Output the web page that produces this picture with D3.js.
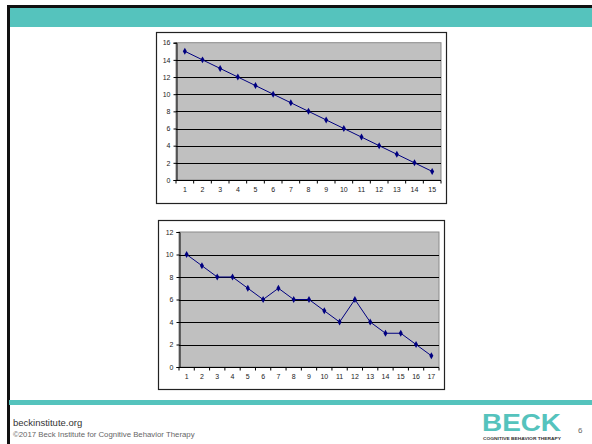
<!DOCTYPE html>
<html>
<head>
<meta charset="utf-8">
<script src="https://d3js.org/d3.v7.min.js"></script>
<style>
  html, body { margin: 0; padding: 0; background: #fff; }
  svg { display: block; }
</style>
</head>
<body>
<script>
// Two line charts of a declining score over successive sessions
const sessionsA = [1,2,3,4,5,6,7,8,9,10,11,12,13,14,15];
const scoresA   = [15,14,13,12,11,10,9,8,7,6,5,4,3,2,1];
const yTicksA   = [0,2,4,6,8,10,12,14,16];

const sessionsB = [1,2,3,4,5,6,7,8,9,10,11,12,13,14,15,16,17];
const scoresB   = [10,9,8,8,7,6,7,6,6,5,4,6,4,3,3,2,1];
const yTicksB   = [0,2,4,6,8,10,12];

const W = 592, H = 444;
const teal = "#55c3bd";
const svg = d3.select("body").append("svg").attr("width", W).attr("height", H);

svg.append("rect").attr("width", W).attr("height", H).attr("fill", "#fff");

// slide frame and header band
svg.append("rect").attr("x", 7).attr("y", 8).attr("width", W).attr("height", 19).attr("fill", teal);
svg.append("path").attr("d", `M8.5,${H} V6.5 H${W}`).attr("fill", "none").attr("stroke", "#111").attr("stroke-width", 3);

// footer rule
svg.append("rect").attr("x", 9).attr("y", 400).attr("width", W).attr("height", 5).attr("fill", teal);

function drawChart(cfg) {
  const { frame, plot, cats, vals, ticks, ymax } = cfg;
  const g = svg.append("g");
  g.append("rect")
    .attr("x", frame.x + 0.5).attr("y", frame.y + 0.5)
    .attr("width", frame.w).attr("height", frame.h)
    .attr("fill", "#fff").attr("stroke", "#222").attr("stroke-width", 1.2);

  const x = d3.scaleBand().domain(cats).range([plot.x0, plot.x1]);
  const y = d3.scaleLinear().domain([0, ymax]).range([plot.y1, plot.y0]);

  g.append("rect")
    .attr("x", plot.x0).attr("y", y(ymax))
    .attr("width", plot.x1 - plot.x0).attr("height", y(0) - y(ymax))
    .attr("fill", "#c0c0c0").attr("stroke", "#8a8a8a").attr("stroke-width", 1);

  // horizontal gridlines
  g.selectAll("line.grid").data(ticks.filter(t => t > 0 && t < ymax)).enter().append("line")
    .attr("x1", plot.x0).attr("x2", plot.x1)
    .attr("y1", d => Math.round(y(d)) + 0.5).attr("y2", d => Math.round(y(d)) + 0.5)
    .attr("stroke", "#000").attr("stroke-width", 1);

  // y axis
  const ya = g.append("g").attr("transform", `translate(${plot.x0 + 0.5},0)`)
    .call(d3.axisLeft(y).tickValues(ticks).tickSize(3).tickPadding(3));
  ya.select(".domain").attr("stroke", "#000");
  ya.selectAll(".tick line").attr("stroke", "#000");
  ya.selectAll("text").attr("font-family", "Liberation Sans, Arial, sans-serif").attr("font-size", 7).attr("fill", "#222");

  // x axis: category labels centred, tick marks at band edges
  const xa = g.append("g").attr("transform", `translate(0,${Math.round(y(0)) + 0.5})`)
    .call(d3.axisBottom(x).tickSize(0).tickPadding(7));
  xa.select(".domain").attr("stroke", "#000").attr("d", `M${plot.x0},0H${plot.x1}`);
  xa.selectAll("text").attr("font-family", "Liberation Sans, Arial, sans-serif").attr("font-size", 7).attr("fill", "#222");
  const edges = cats.map(c => x(c)).concat([x(cats[cats.length - 1]) + x.bandwidth()]);
  xa.selectAll("line.edge").data(edges).enter().append("line")
    .attr("x1", d => d).attr("x2", d => d).attr("y1", 0).attr("y2", 3)
    .attr("stroke", "#000");

  const cx = d => x(d) + x.bandwidth() / 2;
  g.append("path").datum(cats.map((c, i) => [cx(c), y(vals[i])]))
    .attr("d", d3.line())
    .attr("fill", "none").attr("stroke", "#000080").attr("stroke-width", 1);

  g.selectAll("path.mk").data(cats).enter().append("path")
    .attr("d", d3.symbol(d3.symbolDiamond, 14))
    .attr("transform", (c, i) => `translate(${cx(c)},${y(vals[i])})`)
    .attr("fill", "#000080");
}

drawChart({
  frame: { x: 156, y: 32, w: 290, h: 171 },
  plot: { x0: 176, x1: 441, y0: 42.7, y1: 180 },
  cats: sessionsA, vals: scoresA, ticks: yTicksA, ymax: 16
});

drawChart({
  frame: { x: 158, y: 220, w: 286, h: 169 },
  plot: { x0: 179, x1: 439, y0: 232, y1: 367 },
  cats: sessionsB, vals: scoresB, ticks: yTicksB, ymax: 12
});

// footer text
const sans = "Liberation Sans, Arial, sans-serif";
svg.append("text").attr("x", 13).attr("y", 426).attr("font-family", sans)
  .attr("font-size", 9.5).attr("fill", "#333").text("beckinstitute.org");
svg.append("text").attr("x", 13).attr("y", 437).attr("font-family", sans)
  .attr("font-size", 7.8).attr("fill", "#666").text("©2017 Beck Institute for Cognitive Behavior Therapy");

// logo
svg.append("text").attr("x", 482).attr("y", 431).attr("font-family", sans)
  .attr("font-weight", 900).attr("font-size", 24).attr("fill", teal)
  .attr("textLength", 79).attr("lengthAdjust", "spacingAndGlyphs").text("BECK");
svg.append("text").attr("x", 483).attr("y", 440).attr("font-family", sans)
  .attr("font-size", 3.6).attr("font-weight", 700).attr("fill", "#333")
  .attr("textLength", 78).attr("lengthAdjust", "spacingAndGlyphs").text("COGNITIVE BEHAVIOR THERAPY");
svg.append("text").attr("x", 578).attr("y", 433).attr("font-family", sans)
  .attr("font-size", 8).attr("fill", "#666").text("6");
</script>
</body>
</html>
